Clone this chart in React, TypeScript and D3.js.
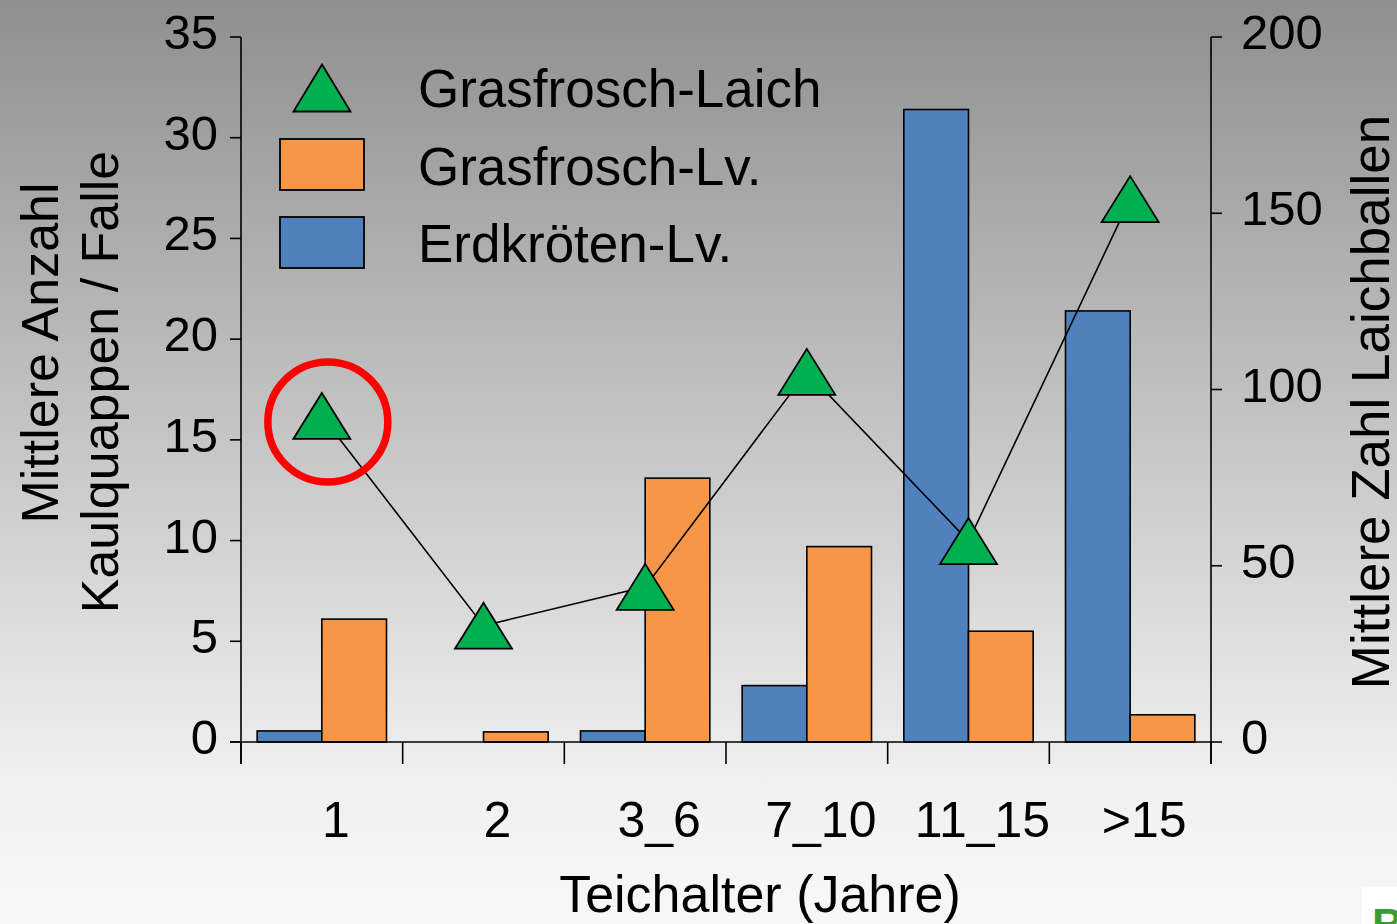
import React from "react";
import * as d3 from "d3";

const categories = ["1", "2", "3_6", "7_10", "11_15", ">15"];
const erdkroetenLv = [0.55, 0, 0.55, 2.8, 31.4, 21.4];
const grasfroschLv = [6.1, 0.5, 13.1, 9.7, 5.5, 1.35];
const grasfroschLaich = [92.5, 33, 44, 105, 57, 154];
const leftTicks = [0, 5, 10, 15, 20, 25, 30, 35];
const rightTicks = [0, 50, 100, 150, 200];

const W = 1397;
const H = 924;
const FONT = "'Liberation Sans', Arial, sans-serif";

export default function App() {
  const x = d3.scaleBand<string>().domain(categories).range([241, 1211]).paddingInner(0).paddingOuter(0);
  const yL = d3.scaleLinear().domain([0, 35]).range([742, 37]);
  const yR = d3.scaleLinear().domain([0, 200]).range([742, 37]);
  const bw = x.bandwidth();
  const pad = bw * 0.1;
  const barW = (bw - 2 * pad) / 2;

  const tri = (cx: number, cy: number, w = 57, h = 46) =>
    `M${cx},${cy - h / 2}L${cx + w / 2},${cy + h / 2}L${cx - w / 2},${cy + h / 2}Z`;

  const line = d3
    .line<number>()
    .x((_, i) => (x(categories[i]) as number) + bw / 2)
    .y((d) => yR(d));

  const boundaries = [...categories.map((c) => x(c) as number), 1211];

  return (
    <svg
      width={W}
      height={H}
      style={{ position: "absolute", left: 0, top: 0 }}
      fontFamily={FONT}
    >
      <defs>
        <linearGradient id="bg" x1="0" y1="0" x2="0" y2="1">
          <stop offset="0" stopColor="#8f8f8f" />
          <stop offset="0.845" stopColor="#f0f0f0" />
          <stop offset="1" stopColor="#f8f8f8" />
        </linearGradient>
      </defs>
      <rect x={0} y={0} width={W} height={H} fill="url(#bg)" />

      {/* bars */}
      {categories.map((c, i) => {
        const x0 = (x(c) as number) + pad;
        return (
          <g key={c}>
            {erdkroetenLv[i] > 0 && (
              <rect
                x={x0}
                y={yL(erdkroetenLv[i])}
                width={barW}
                height={yL(0) - yL(erdkroetenLv[i])}
                fill="#4f81bd"
                stroke="#000"
                strokeWidth={1.6}
              />
            )}
            <rect
              x={x0 + barW}
              y={yL(grasfroschLv[i])}
              width={barW}
              height={yL(0) - yL(grasfroschLv[i])}
              fill="#f79646"
              stroke="#000"
              strokeWidth={1.6}
            />
          </g>
        );
      })}

      {/* axes */}
      <line x1={241} x2={241} y1={37} y2={764} stroke="#000" strokeWidth={1.6} />
      <line x1={1211} x2={1211} y1={37} y2={764} stroke="#000" strokeWidth={1.6} />
      <line x1={230} x2={1211} y1={742} y2={742} stroke="#000" strokeWidth={1.6} />
      {leftTicks.map((t) => (
        <g key={"l" + t}>
          <line x1={230} x2={241} y1={yL(t)} y2={yL(t)} stroke="#000" strokeWidth={1.6} />
          <text x={218} y={yL(t) + 12} textAnchor="end" fontSize={49} fill="#000">
            {t}
          </text>
        </g>
      ))}
      {rightTicks.map((t) => (
        <g key={"r" + t}>
          <line x1={1211} x2={1222} y1={yR(t)} y2={yR(t)} stroke="#000" strokeWidth={1.6} />
          <text x={1241} y={yR(t) + 12} textAnchor="start" fontSize={49} fill="#000">
            {t}
          </text>
        </g>
      ))}
      {boundaries.map((b, i) => (
        <line key={"b" + i} x1={b} x2={b} y1={742} y2={764} stroke="#000" strokeWidth={1.6} />
      ))}
      {categories.map((c) => (
        <text
          key={"c" + c}
          x={(x(c) as number) + bw / 2 + 14}
          y={837}
          textAnchor="middle"
          fontSize={50}
          fill="#000"
        >
          {c}
        </text>
      ))}

      {/* line + triangles */}
      <path d={line(grasfroschLaich) || ""} fill="none" stroke="#000" strokeWidth={1.6} />
      {grasfroschLaich.map((v, i) => (
        <path
          key={"t" + i}
          d={tri((x(categories[i]) as number) + bw / 2, yR(v))}
          fill="#00b050"
          stroke="#000"
          strokeWidth={1.8}
        />
      ))}

      {/* red circle highlight */}
      <circle
        cx={(x(categories[0]) as number) + bw / 2 + 6}
        cy={yR(grasfroschLaich[0]) + 6}
        r={60}
        fill="none"
        stroke="#ff0000"
        strokeWidth={7.5}
      />

      {/* legend */}
      <path d={tri(322, 88, 57, 47)} fill="#00b050" stroke="#000" strokeWidth={1.8} />
      <rect x={280} y={139} width={84} height={51} fill="#f79646" stroke="#000" strokeWidth={1.8} />
      <rect x={280} y={217} width={84} height={51} fill="#4f81bd" stroke="#000" strokeWidth={1.8} />
      <text x={418} y={107} fontSize={53} fill="#000">Grasfrosch-Laich</text>
      <text x={418} y={185} fontSize={53} fill="#000">Grasfrosch-Lv.</text>
      <text x={418} y={262} fontSize={53} fill="#000">Erdkröten-Lv.</text>

      {/* axis titles */}
      <text x={760} y={912} textAnchor="middle" fontSize={52} fill="#000">
        Teichalter (Jahre)
      </text>
      <text transform="translate(58,353) rotate(-90)" textAnchor="middle" fontSize={52} fill="#000">
        Mittlere Anzahl
      </text>
      <text transform="translate(118,382) rotate(-90)" textAnchor="middle" fontSize={52} fill="#000">
        Kaulquappen / Falle
      </text>
      <text transform="translate(1389,402) rotate(-90)" textAnchor="middle" fontSize={53} fill="#000">
        Mittlere Zahl Laichballen
      </text>

      {/* corner logo fragment */}
      <rect x={1362} y={887} width={40} height={40} fill="#ffffff" />
      <text x={1372} y={940} fontSize={44} fontWeight="bold" fill="#3d9b35">
        Bi
      </text>
    </svg>
  );
}
